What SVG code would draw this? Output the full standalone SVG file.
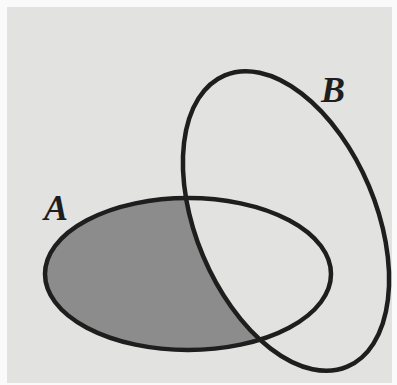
<svg xmlns="http://www.w3.org/2000/svg" width="397" height="385" viewBox="0 0 397 385">
<style>
.outline{fill:none;stroke:#1e1e1e;stroke-width:4.5}
.lbl{font-family:"Liberation Serif","DejaVu Serif",serif;font-style:italic;font-weight:bold;font-size:36px;fill:#1e1e1e}
</style>
<defs>
<mask id="aMinusB">
<ellipse cx="188" cy="274" rx="143" ry="76" fill="#fff"/>
<ellipse cx="286" cy="221" rx="90" ry="158" transform="rotate(-22.8 286 221)" fill="#000"/>
</mask>
</defs>
<rect x="0" y="0" width="397" height="385" fill="#fafafa"/>
<rect x="7" y="7" width="385" height="376" fill="#e2e2e0"/>
<g id="shade">
<rect x="40" y="190" width="300" height="170" fill="#8c8c8c" mask="url(#aMinusB)"/>
</g>
<g id="A">
<ellipse class="outline" cx="188" cy="274" rx="143" ry="76"/>
<text class="lbl" x="44" y="220">A</text>
</g>
<g id="B">
<ellipse class="outline" cx="286" cy="221" rx="90" ry="158" transform="rotate(-22.8 286 221)"/>
<text class="lbl" x="321" y="102">B</text>
</g>
<g id="connectors"/>
</svg>
